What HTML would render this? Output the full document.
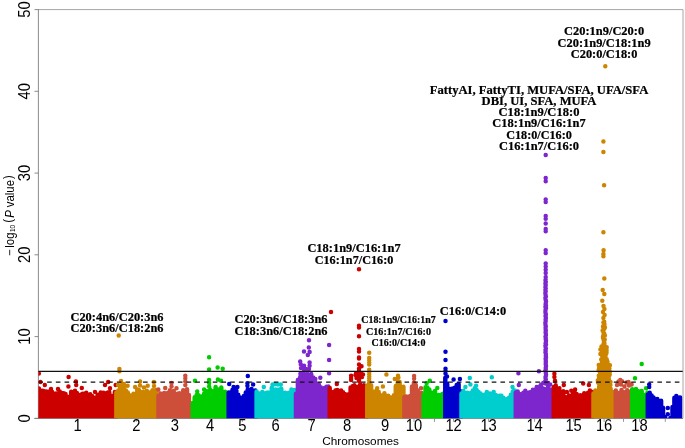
<!DOCTYPE html>
<html lang="en"><head><meta charset="utf-8"><title>Manhattan plot</title>
<style>html,body{margin:0;padding:0;background:#fff}svg{display:block;will-change:transform}</style></head>
<body>
<svg width="685" height="448" viewBox="0 0 685 448">
<rect width="685" height="448" fill="#fff"/>
<defs><clipPath id="pc"><rect x="38.4" y="9.6" width="644.2" height="408.7"/></clipPath></defs>
<path d="M38.4 9.6H683.0" stroke="#a6a6a6" stroke-width="1" fill="none"/>
<path d="M683.0 9.6V418.3" stroke="#a6a6a6" stroke-width="1" fill="none"/>
<path d="M38.4 9.1V418.8M34.4 418.5H683.0" stroke="#7f7f7f" stroke-width="0.9" fill="none"/>
<path d="M34.5 418.3H38.4M34.5 336.6H38.4M34.5 254.8H38.4M34.5 173.1H38.4M34.5 91.3H38.4M34.5 9.6H38.4" stroke="#7f7f7f" stroke-width="0.9" fill="none"/>
<path d="M77.5 418.3V421.9M136.3 418.3V421.9M174.9 418.3V421.9M210.2 418.3V421.9M242.3 418.3V421.9M275.7 418.3V421.9M311.5 418.3V421.9M347.2 418.3V421.9M385 418.3V421.9M414 418.3V421.9M434.5 418.3V421.9M453.6 418.3V421.9M488.6 418.3V421.9M534.6 418.3V421.9M573.6 418.3V421.9M604.1 418.3V421.9M623.5 418.3V421.9M639.5 418.3V421.9M665.3 418.3V421.9" stroke="#8c8c8c" stroke-width="0.9" fill="none"/>
<g clip-path="url(#pc)" fill="none" stroke-width="4.5" stroke-linecap="round">
<path d="M38.9 388.4V422M40.8 390.7V422M42.7 390.7V422M44.6 391.4V422M46.5 391.4V422M48.4 392.1V422M50.3 391.3V422M52.2 391.9V422M54.1 396.3V422M56.0 393.5V422M57.9 393.3V422M59.8 391.5V422M61.7 393.1V422M63.6 393.2V422M65.5 394.0V422M67.4 396.7V422M69.3 397.2V422M71.2 391.7V422M73.1 395.2V422M75.0 390.8V422M76.9 393.0V422M78.8 394.9V422M80.7 394.7V422M82.6 393.8V422M84.5 393.7V422M86.4 394.7V422M88.3 396.8V422M90.2 394.2V422M92.1 396.0V422M94.0 398.9V422M95.9 397.6V422M97.8 394.8V422M99.7 395.0V422M101.6 397.8V422M103.5 392.8V422M105.4 395.6V422M107.3 392.8V422M109.2 392.0V422M111.1 395.7V422M113.0 396.4V422M114.9 392.1V422M38.8 373.6v.01M40.4 382.0v.01M68.6 377.0v.01M75.9 381.4v.01M68.4 386.4v.01M76.2 385.1v.01M108.2 382.0v.01M105.0 385.1v.01M115.7 385.1v.01M110.0 388.3v.01M44.8 385.1v.01M51.0 388.9v.01M58.0 389.1v.01M81.8 387.9v.01M86.2 392.7v.01M95.0 392.0v.01M100.7 392.4v.01" stroke="#cd0000"/>
<path d="M116.4 392.4V422M118.3 390.5V422M120.2 386.5V422M122.1 391.4V422M124.0 387.0V422M125.9 390.6V422M127.8 392.4V422M129.7 395.3V422M131.6 396.9V422M133.5 393.8V422M135.4 395.9V422M137.3 389.4V422M139.2 390.2V422M141.1 392.4V422M143.0 391.9V422M144.9 394.5V422M146.8 390.7V422M148.7 393.5V422M150.6 392.2V422M152.5 390.2V422M154.4 390.7V422M156.3 390.0V422M119.4 369.1v.01M119.4 371.3v.01M118.7 335.6v.01M121.0 381.1v.01M140.1 381.6v.01M153.9 382.0v.01M123.8 383.9v.01M127.6 385.8v.01M135.1 387.0v.01M147.7 385.8v.01M143.9 387.6v.01M118.0 385.0v.01M121.0 385.0v.01M140.0 385.5v.01M154.0 386.0v.01" stroke="#cd8500"/>
<path d="M158.5 395.7V422M160.4 393.5V422M162.3 395.4V422M164.2 393.1V422M166.1 397.5V422M168.0 392.7V422M169.9 390.3V422M171.8 394.3V422M173.7 391.0V422M175.6 394.6V422M177.5 393.7V422M179.4 393.2V422M181.3 395.3V422M183.2 390.2V422M185.1 391.8V422M187.0 389.3V422M188.9 394.9V422M190.8 409.0V422M185.3 375.7v.01M185.3 378.2v.01M171.5 382.9v.01M165.2 387.9v.01M176.5 388.3v.01M185.3 385.1v.01M171.5 386.4v.01M158.3 389.5v.01M185.3 381.5v.01" stroke="#cd4f39"/>
<path d="M192.8 403.1V422M194.7 397.2V422M196.6 395.0V422M198.5 395.3V422M200.4 396.8V422M202.3 396.3V422M204.2 393.4V422M206.1 390.9V422M208.0 391.7V422M209.9 389.2V422M211.8 393.4V422M213.7 391.0V422M215.6 387.1V422M217.5 389.5V422M219.4 389.5V422M221.3 387.4V422M223.2 392.2V422M225.1 391.8V422M227.0 395.5V422M209.1 357.3v.01M209.1 369.4v.01M217.6 367.6v.01M222.7 368.8v.01M195.0 380.7v.01M209.1 379.9v.01M217.9 379.5v.01M221.0 380.7v.01M209.1 386.4v.01M197.2 391.4v.01M204.1 389.5v.01M209.1 383.0v.01" stroke="#00cd00"/>
<path d="M228.7 392.5V422M230.6 392.6V422M232.5 389.8V422M234.4 393.2V422M236.3 390.2V422M238.2 394.7V422M240.1 397.5V422M242.0 397.7V422M243.9 396.0V422M245.8 392.5V422M247.7 389.6V422M249.6 391.3V422M251.5 389.0V422M253.4 391.4V422M255.3 390.5V422M247.8 376.1v.01M229.2 384.1v.01M247.4 383.2v.01M247.4 385.8v.01M253.1 384.5v.01M237.4 387.0v.01M233.6 387.0v.01" stroke="#0000cd"/>
<path d="M256.6 391.6V422M258.5 393.2V422M260.4 395.9V422M262.3 391.9V422M264.2 394.9V422M266.1 393.0V422M268.0 392.4V422M269.9 393.7V422M271.8 387.5V422M273.7 394.4V422M275.6 389.6V422M277.5 389.8V422M279.4 389.8V422M281.3 388.7V422M283.2 393.5V422M285.1 392.8V422M287.0 396.0V422M288.9 392.7V422M290.8 395.5V422M292.7 392.1V422M294.6 389.9V422M263.8 387.0v.01M272.6 384.6v.01M275.0 384.3v.01M278.0 384.6v.01M280.8 384.6v.01M291.4 389.6v.01" stroke="#00cdcd"/>
<path d="M296.0 393.8V422M297.9 379.9V422M299.8 378.0V422M301.7 375.6V422M303.6 375.7V422M305.5 377.6V422M307.4 374.1V422M309.3 375.3V422M311.2 374.0V422M313.1 377.5V422M315.0 380.9V422M316.9 385.9V422M318.8 384.2V422M320.7 387.2V422M322.6 388.9V422M324.5 388.0V422M326.4 386.8V422M328.3 386.6V422M309.0 340.3v.01M329.1 345.0v.01M308.8 347.6v.01M304.0 351.6v.01M309.6 351.9v.01M307.8 355.1v.01M329.1 360.1v.01M300.2 361.4v.01M309.6 362.6v.01M300.8 364.5v.01M304.0 365.8v.01M309.6 365.8v.01M309.0 368.9v.01M304.0 369.5v.01M329.1 373.3v.01M320.3 377.7v.01M315.3 379.0v.01M301.0 368.0v.01M306.0 369.0v.01M301.2 374.3v.01M309.0 375.0v.01M302.8 377.4v.01M310.3 374.5v.01M305.2 378.9v.01M310.4 381.3v.01M310.2 376.4v.01M304.8 377.1v.01M310.4 382.6v.01M301.6 375.4v.01M302.6 375.9v.01M305.6 379.2v.01M303.0 373.8v.01M304.8 377.2v.01M306.6 382.6v.01M308.1 378.5v.01M307.2 380.0v.01M300.4 382.1v.01M309.2 381.8v.01M309.4 377.4v.01M304.6 374.8v.01M307.4 374.4v.01M300.6 375.7v.01M301.7 376.9v.01M300.4 373.8v.01M301.6 374.7v.01M304.2 374.0v.01M310.3 379.4v.01M301.6 376.1v.01M304.0 377.2v.01M301.3 381.6v.01M311.7 378.1v.01M305.6 374.6v.01M301.0 377.0v.01M303.0 381.4v.01M301.7 374.0v.01M311.2 378.7v.01M301.6 378.8v.01M300.1 378.7v.01M311.5 381.7v.01" stroke="#7d26cd"/>
<path d="M329.7 388.1V422M331.6 392.0V422M333.5 393.0V422M335.4 390.5V422M337.3 389.9V422M339.2 394.5V422M341.1 390.6V422M343.0 392.3V422M344.9 394.0V422M346.8 395.9V422M348.7 394.3V422M350.6 387.4V422M352.5 386.2V422M354.4 385.2V422M356.3 387.7V422M358.2 386.7V422M360.1 384.4V422M362.0 386.9V422M363.9 385.2V422M365.8 386.7V422M336.8 384.1v.01M351.1 375.7v.01M351.1 378.0v.01M351.1 380.1v.01M359.0 357.5v.01M359.0 364.4v.01M361.5 366.3v.01M359.0 368.8v.01M359.0 371.0v.01M359.0 373.0v.01M359.0 375.0v.01M359.0 377.0v.01M359.0 379.0v.01M359.0 381.0v.01M356.0 373.5v.01M357.5 374.5v.01M361.0 373.5v.01M363.0 374.5v.01M355.5 375.0v.01M359.0 269.2v.01M331.0 311.9v.01M359.0 325.7v.01M359.0 327.6v.01M359.0 336.2v.01M359.0 349.0v.01M359.0 351.5v.01M359.0 358.5v.01M362.0 377.0v.01M356.5 378.0v.01" stroke="#cd0000"/>
<path d="M367.3 385.5V422M369.2 385.4V422M371.1 385.2V422M373.0 391.4V422M374.9 393.4V422M376.8 389.8V422M378.7 392.1V422M380.6 395.2V422M382.5 396.9V422M384.4 393.3V422M386.3 396.7V422M388.2 395.7V422M390.1 397.3V422M392.0 397.7V422M393.9 395.2V422M395.8 385.9V422M397.7 383.6V422M399.6 382.1V422M401.5 387.8V422M403.4 386.7V422M369.2 352.8v.01M369.2 358.0v.01M369.2 360.2v.01M369.2 362.4v.01M369.2 364.6v.01M369.2 369.8v.01M369.2 372.0v.01M369.2 374.2v.01M369.2 376.4v.01M369.2 378.6v.01M369.2 380.8v.01M369.2 383.0v.01M386.4 374.5v.01M398.0 375.7v.01M394.8 378.9v.01M398.0 380.0v.01M382.9 386.4v.01M377.2 388.3v.01M398.4 377.5v.01" stroke="#cd8500"/>
<path d="M404.4 397.1V422M406.3 396.5V422M408.2 399.0V422M410.1 396.1V422M412.0 386.6V422M413.9 382.6V422M415.8 385.1V422M417.7 390.4V422M419.6 393.8V422M421.5 392.9V422M414.1 376.1v.01M414.1 378.5v.01M421.0 388.3v.01" stroke="#cd4f39"/>
<path d="M423.6 394.8V422M425.5 387.2V422M427.4 387.4V422M429.3 389.6V422M431.2 392.5V422M433.1 394.8V422M435.0 391.0V422M436.9 396.3V422M438.8 395.0V422M440.7 395.1V422M442.6 394.1V422M444.5 392.4V422M429.8 380.7v.01M426.6 383.2v.01M437.3 387.9v.01" stroke="#00cd00"/>
<path d="M445.3 377.7V422M447.2 383.7V422M449.1 388.7V422M451.0 388.9V422M452.9 388.4V422M454.8 387.7V422M456.7 384.9V422M458.6 384.0V422M460.5 391.2V422M445.5 321.1v.01M445.5 351.7v.01M445.5 360.0v.01M445.5 368.8v.01M445.5 371.0v.01M445.5 373.5v.01M453.6 379.5v.01M459.9 378.9v.01M447.0 376.5v.01" stroke="#0000cd"/>
<path d="M461.5 393.4V422M463.4 391.0V422M465.3 394.5V422M467.2 392.7V422M469.1 394.6V422M471.0 392.7V422M472.9 390.5V422M474.8 388.0V422M476.7 390.1V422M478.6 391.9V422M480.5 393.5V422M482.4 396.2V422M484.3 394.7V422M486.2 397.4V422M488.1 395.7V422M490.0 393.5V422M491.9 394.6V422M493.8 397.6V422M495.7 394.9V422M497.6 397.3V422M499.5 395.7V422M501.4 395.7V422M503.3 397.7V422M505.2 400.2V422M507.1 398.9V422M509.0 397.7V422M510.9 394.8V422M512.8 391.4V422M514.7 390.5V422M469.8 377.9v.01M491.8 377.3v.01M470.4 384.5v.01M476.1 385.8v.01M465.4 387.0v.01M486.8 392.0v.01M493.7 392.0v.01M512.5 387.0v.01" stroke="#00cdcd"/>
<path d="M515.8 392.5V422M517.7 391.6V422M519.6 393.9V422M521.5 395.0V422M523.4 392.8V422M525.3 390.8V422M527.2 394.2V422M529.1 392.6V422M531.0 392.0V422M532.9 389.8V422M534.8 390.0V422M536.7 387.1V422M538.6 390.3V422M540.5 385.6V422M542.4 388.3V422M544.3 388.9V422M546.2 389.6V422M548.1 386.4V422M550.0 389.5V422M551.9 389.8V422M518.4 373.2v.01M538.9 371.3v.01M518.8 385.1v.01M545.7 155.0v.01M545.7 178.1v.01M545.7 181.3v.01M545.7 199.4v.01M545.7 201.9v.01M545.7 215.9v.01M545.7 218.8v.01M545.7 223.4v.01M545.7 229.0v.01M545.7 231.3v.01M545.7 250.3v.01M545.7 253.1v.01M545.7 263.4v.01M545.7 266.6v.01M545.7 269.7v.01M545.7 273.0v.01M545.7 276.9v.01M545.6 279.5v.01M545.5 280.8v.01M545.8 282.1v.01M545.4 283.4v.01M545.7 284.7v.01M545.6 286.0v.01M545.4 287.3v.01M545.7 288.6v.01M545.4 289.9v.01M545.7 291.2v.01M545.4 292.5v.01M545.4 293.8v.01M545.6 295.1v.01M545.9 296.4v.01M545.4 297.7v.01M545.5 299.0v.01M545.8 300.3v.01M546.0 301.6v.01M545.8 302.9v.01M545.6 304.2v.01M546.0 305.5v.01M545.4 306.8v.01M546.0 308.1v.01M545.6 309.4v.01M545.5 310.7v.01M545.4 312.0v.01M545.6 313.3v.01M545.9 314.6v.01M545.5 315.9v.01M545.8 317.2v.01M545.8 318.5v.01M545.6 319.8v.01M545.7 321.1v.01M545.4 322.4v.01M545.4 323.7v.01M545.5 325.0v.01M545.8 326.3v.01M545.6 327.6v.01M545.6 328.9v.01M545.8 330.2v.01M545.7 331.5v.01M545.6 332.8v.01M545.9 334.1v.01M545.8 335.4v.01M545.5 336.7v.01M545.8 338.0v.01M545.7 339.3v.01M546.0 340.6v.01M545.9 341.9v.01M545.6 343.2v.01M546.0 344.5v.01M545.4 345.8v.01M545.6 347.1v.01M545.9 348.4v.01M545.5 349.7v.01M545.7 351.0v.01M545.4 352.3v.01M545.8 353.6v.01M545.9 354.9v.01M545.8 356.2v.01M546.0 357.5v.01M545.6 358.8v.01M545.8 360.1v.01M545.8 361.4v.01M545.8 362.7v.01M545.7 364.0v.01M545.9 365.3v.01M546.0 366.6v.01M545.7 367.9v.01M545.8 369.2v.01M545.4 370.5v.01M545.8 371.8v.01M545.8 373.1v.01M546.0 374.4v.01M545.9 375.7v.01M545.5 377.0v.01M545.6 378.3v.01M545.8 379.6v.01M545.4 380.9v.01M545.7 382.2v.01M545.5 383.5v.01M543.2 383.0v.01M548.2 383.0v.01M541.2 384.5v.01M550.2 384.5v.01" stroke="#7d26cd"/>
<path d="M553.8 386.9V422M555.7 385.3V422M557.6 390.8V422M559.5 390.8V422M561.4 392.8V422M563.3 391.3V422M565.2 396.9V422M567.1 397.7V422M569.0 395.5V422M570.9 398.5V422M572.8 394.3V422M574.7 393.1V422M576.6 394.1V422M578.5 396.2V422M580.4 395.3V422M582.3 396.2V422M584.2 393.3V422M586.1 395.2V422M588.0 392.8V422M589.9 390.5V422M591.8 394.2V422M554.4 373.8v.01M554.4 377.0v.01M555.0 380.7v.01M563.8 385.1v.01M583.2 383.6v.01M588.9 385.1v.01M559.4 388.3v.01M575.1 389.5v.01M571.3 390.8v.01M566.9 392.0v.01M592.7 392.0v.01" stroke="#cd0000"/>
<path d="M593.5 393.6V422M595.4 390.4V422M597.3 390.8V422M599.2 386.4V422M601.1 389.4V422M603.0 388.4V422M604.9 385.1V422M606.8 386.1V422M608.7 387.2V422M610.6 388.7V422M612.5 392.0V422M614.4 395.9V422M603.4 256.3v.01M603.4 254.0v.01M603.6 250.3v.01M603.4 232.2v.01M604.1 185.3v.01M603.4 151.9v.01M603.4 141.6v.01M605.3 66.2v.01M604.3 278.6v.01M602.7 290.1v.01M604.3 294.0v.01M602.3 300.8v.01M603.5 306.0v.01M604.4 309.0v.01M603.0 312.0v.01M604.6 315.0v.01M603.4 318.0v.01M604.2 321.7v.01M603.4 322.6v.01M604.4 324.0v.01M604.4 324.8v.01M603.0 326.4v.01M604.9 327.4v.01M604.4 328.4v.01M604.3 328.7v.01M603.7 329.8v.01M602.6 330.4v.01M603.2 331.7v.01M604.2 333.5v.01M603.6 334.5v.01M604.9 335.5v.01M603.4 335.7v.01M603.0 336.6v.01M603.0 338.1v.01M604.7 339.4v.01M603.7 340.2v.01M604.4 340.5v.01M604.1 342.5v.01M604.4 343.3v.01M603.6 343.6v.01M604.4 344.8v.01M604.4 346.6v.01M603.0 346.9v.01M606.7 347.3v.01M601.5 346.6v.01M601.3 348.5v.01M605.8 347.6v.01M605.9 348.6v.01M604.8 348.8v.01M604.0 348.6v.01M600.4 349.6v.01M604.7 350.0v.01M606.6 349.9v.01M606.2 350.4v.01M601.7 350.7v.01M602.3 350.7v.01M604.3 350.7v.01M603.1 351.6v.01M606.5 351.8v.01M603.4 352.1v.01M606.4 352.9v.01M606.5 353.0v.01M603.9 353.0v.01M600.4 353.9v.01M601.5 353.4v.01M605.7 353.6v.01M603.5 355.3v.01M604.1 354.8v.01M603.8 355.1v.01M605.6 355.5v.01M604.1 355.7v.01M602.2 356.3v.01M603.8 357.1v.01M605.5 357.5v.01M603.3 357.1v.01M603.7 358.0v.01M605.0 357.9v.01M603.9 358.0v.01M606.7 359.2v.01M606.3 359.5v.01M602.1 359.1v.01M606.7 360.4v.01M601.2 359.5v.01M603.3 359.5v.01M602.5 360.5v.01M605.5 361.3v.01M607.0 360.6v.01M605.8 362.2v.01M601.9 362.5v.01M607.5 361.7v.01M607.4 362.9v.01M604.2 363.6v.01M606.6 362.6v.01M603.8 364.0v.01M603.2 363.6v.01M603.1 364.3v.01M598.7 365.1v.01M603.6 364.4v.01M602.3 365.1v.01M604.4 364.5v.01M609.9 365.3v.01M609.8 365.5v.01M601.6 365.4v.01M607.5 365.7v.01M600.0 365.9v.01M609.1 366.4v.01M601.5 366.6v.01M609.2 367.1v.01M606.6 366.5v.01M599.2 367.2v.01M603.4 366.5v.01M609.4 368.2v.01M607.8 367.5v.01M608.4 367.5v.01M608.5 367.9v.01M602.4 368.1v.01M609.2 368.7v.01M600.0 369.0v.01M601.3 368.5v.01M600.4 368.5v.01M600.8 368.8v.01M602.0 370.3v.01M601.9 370.0v.01M600.6 369.8v.01M598.7 369.7v.01M598.7 370.3v.01M604.9 370.6v.01M604.0 371.5v.01M599.7 371.4v.01M603.5 371.0v.01M608.2 370.9v.01M604.4 372.2v.01M609.9 371.8v.01M608.2 372.2v.01M605.9 371.9v.01M602.5 371.5v.01M600.0 372.5v.01M607.1 372.7v.01M600.4 372.5v.01M608.3 373.4v.01M606.3 372.7v.01M601.3 373.8v.01M603.8 373.6v.01M603.7 373.7v.01M609.7 374.6v.01M604.8 373.7v.01M609.7 374.8v.01M602.6 374.4v.01M602.9 375.0v.01M604.3 374.6v.01M604.4 374.4v.01M601.6 375.5v.01M603.1 375.5v.01M598.8 375.8v.01M601.2 376.1v.01M604.6 376.3v.01M606.1 377.3v.01M608.7 376.9v.01M602.3 377.6v.01M600.2 377.3v.01M606.0 376.5v.01M608.2 378.5v.01M605.8 378.3v.01M607.9 377.6v.01M604.6 378.0v.01M608.2 378.4v.01M608.1 379.1v.01M608.9 379.2v.01M606.5 378.7v.01M598.9 378.6v.01M602.7 378.5v.01M608.7 380.1v.01M606.0 380.2v.01M606.6 380.0v.01M597.8 380.4v.01M607.5 380.0v.01M604.8 381.2v.01M598.7 381.3v.01M601.1 380.5v.01M601.3 381.3v.01M600.5 381.3v.01M610.5 382.0v.01M602.8 382.0v.01M606.7 382.3v.01M605.8 382.2v.01M598.8 381.6v.01M601.1 383.3v.01M601.8 383.1v.01M598.0 382.5v.01M601.3 383.2v.01M606.8 383.2v.01M601.6 384.0v.01M603.8 384.0v.01M599.3 384.5v.01M600.4 384.6v.01M610.0 383.4v.01M603.8 385.4v.01M610.4 384.9v.01M601.3 384.7v.01M610.1 384.7v.01M605.4 384.6v.01" stroke="#cd8500"/>
<path d="M615.8 390.5V422M617.7 395.3V422M619.6 392.7V422M621.5 390.1V422M623.4 392.1V422M625.3 392.4V422M627.2 390.2V422M629.1 391.6V422M631.0 392.9V422M620.3 380.1v.01M622.0 381.2v.01M618.5 381.5v.01M628.5 382.0v.01M626.5 382.5v.01M631.6 384.5v.01M617.0 385.0v.01M624.5 386.5v.01M629.0 385.5v.01M621.0 384.5v.01" stroke="#cd4f39"/>
<path d="M632.2 389.2V422M634.1 390.9V422M636.0 389.0V422M637.9 391.0V422M639.8 394.1V422M641.7 391.1V422M643.6 395.0V422M645.5 394.7V422M647.4 392.8V422M641.7 364.0v.01M635.0 378.2v.01M646.1 388.3v.01" stroke="#00cd00"/>
<path d="M647.8 394.4V422M649.7 392.8V422M651.6 395.5V422M653.5 397.6V422M655.4 400.1V422M657.3 399.0V422M659.2 401.5V422M661.1 400.8V422M663.0 407.8V422M664.9 417.1V422M666.8 421.3V422M668.7 419.6V422M670.6 417.9V422M672.5 407.1V422M674.4 397.7V422M676.3 396.0V422M678.2 397.5V422M680.1 397.5V422M649.2 384.5v.01M649.2 387.0v.01M667.8 408.0v.01M667.8 414.2v.01" stroke="#0000cd"/>
</g>
<path d="M38.4 371.4H682.7" stroke="#111" stroke-width="1.15" fill="none"/>
<path d="M38.4 382.1H682.7" stroke="#111" stroke-width="1.15" stroke-dasharray="4.6 4.118" fill="none"/>
<g font-family="Liberation Sans, Arial, Helvetica, sans-serif" font-size="15.7" fill="#000" text-anchor="middle">
<text transform="translate(77.5 431.3) scale(.94 1)">1</text>
<text transform="translate(136.3 431.3) scale(.94 1)">2</text>
<text transform="translate(174.9 431.3) scale(.94 1)">3</text>
<text transform="translate(210.2 431.3) scale(.94 1)">4</text>
<text transform="translate(242.3 431.3) scale(.94 1)">5</text>
<text transform="translate(275.7 431.3) scale(.94 1)">6</text>
<text transform="translate(311.5 431.3) scale(.94 1)">7</text>
<text transform="translate(347.2 431.3) scale(.94 1)">8</text>
<text transform="translate(385.0 431.3) scale(.94 1)">9</text>
<text transform="translate(414.0 431.3) scale(.94 1)">10</text>
<text transform="translate(453.6 431.3) scale(.94 1)">12</text>
<text transform="translate(488.6 431.3) scale(.94 1)">13</text>
<text transform="translate(534.6 431.3) scale(.94 1)">14</text>
<text transform="translate(573.6 431.3) scale(.94 1)">15</text>
<text transform="translate(604.1 431.3) scale(.94 1)">16</text>
<text transform="translate(639.5 431.3) scale(.94 1)">18</text>
<text transform="translate(30 418.3) rotate(-90) scale(.94 1)">0</text>
<text transform="translate(30 336.6) rotate(-90) scale(.94 1)">10</text>
<text transform="translate(30 254.8) rotate(-90) scale(.94 1)">20</text>
<text transform="translate(30 173.1) rotate(-90) scale(.94 1)">30</text>
<text transform="translate(30 91.3) rotate(-90) scale(.94 1)">40</text>
<text transform="translate(30 9.6) rotate(-90) scale(.94 1)">50</text>
</g>
<text font-family="Liberation Sans, Arial, Helvetica, sans-serif" font-size="11.8" fill="#000" text-anchor="middle" x="360.6" y="445.4">Chromosomes</text>
<text font-family="Liberation Sans, Arial, Helvetica, sans-serif" font-size="12.2" fill="#000" transform="translate(13.7 0) rotate(-90) scale(0.935 1)"><tspan x="-273.82" y="0">−</tspan><tspan x="-264.92">log</tspan><tspan x="-248.15" dy="1.4" font-size="6.8">10</tspan><tspan x="-238.20" dy="-3">(</tspan><tspan x="-233.01" dy="1.6" font-style="italic">P</tspan> <tspan x="-221.60">value</tspan><tspan x="-191.38" dy="-1.6">)</tspan></text>
<g font-family="Liberation Serif, Times New Roman, Times, serif" font-weight="bold" font-size="12.4" fill="#000" stroke="#000" stroke-width="0.22" text-anchor="middle"><text x="604.1" y="35.3" textLength="80.1" lengthAdjust="spacingAndGlyphs">C20:1n9/C20:0</text><text x="604.1" y="46.6" textLength="93" lengthAdjust="spacingAndGlyphs">C20:1n9/C18:1n9</text><text x="604.1" y="57.9" textLength="66.6" lengthAdjust="spacingAndGlyphs">C20:0/C18:0</text></g>
<g font-family="Liberation Serif, Times New Roman, Times, serif" font-weight="bold" font-size="12.4" fill="#000" stroke="#000" stroke-width="0.22" text-anchor="middle"><text x="539" y="93.5" textLength="218.5" lengthAdjust="spacingAndGlyphs">FattyAI, FattyTI, MUFA/SFA, UFA/SFA</text><text x="539" y="104.8" textLength="114.9" lengthAdjust="spacingAndGlyphs">DBI, UI, SFA, MUFA</text><text x="539" y="116.0" textLength="80.9" lengthAdjust="spacingAndGlyphs">C18:1n9/C18:0</text><text x="539" y="127.3" textLength="93.3" lengthAdjust="spacingAndGlyphs">C18:1n9/C16:1n7</text><text x="539" y="138.6" textLength="65.7" lengthAdjust="spacingAndGlyphs">C18:0/C16:0</text><text x="539" y="149.8" textLength="80.1" lengthAdjust="spacingAndGlyphs">C16:1n7/C16:0</text></g>
<g font-family="Liberation Serif, Times New Roman, Times, serif" font-weight="bold" font-size="12.4" fill="#000" stroke="#000" stroke-width="0.22" text-anchor="middle"><text x="354" y="252.3" textLength="93.2" lengthAdjust="spacingAndGlyphs">C18:1n9/C16:1n7</text><text x="354" y="263.7" textLength="78.7" lengthAdjust="spacingAndGlyphs">C16:1n7/C16:0</text></g>
<g font-family="Liberation Serif, Times New Roman, Times, serif" font-weight="bold" font-size="12.4" fill="#000" stroke="#000" stroke-width="0.22" text-anchor="middle"><text x="117" y="320.7" textLength="93.1" lengthAdjust="spacingAndGlyphs">C20:4n6/C20:3n6</text><text x="117" y="332.0" textLength="93.1" lengthAdjust="spacingAndGlyphs">C20:3n6/C18:2n6</text></g>
<g font-family="Liberation Serif, Times New Roman, Times, serif" font-weight="bold" font-size="12.4" fill="#000" stroke="#000" stroke-width="0.22" text-anchor="middle"><text x="281" y="323.3" textLength="93.1" lengthAdjust="spacingAndGlyphs">C20:3n6/C18:3n6</text><text x="281" y="334.5" textLength="93.1" lengthAdjust="spacingAndGlyphs">C18:3n6/C18:2n6</text></g>
<g font-family="Liberation Serif, Times New Roman, Times, serif" font-weight="bold" font-size="9.9" fill="#000" stroke="#000" stroke-width="0.22" text-anchor="middle"><text x="398.5" y="323.4" textLength="74.5" lengthAdjust="spacingAndGlyphs">C18:1n9/C16:1n7</text><text x="398.5" y="334.5" textLength="64.9" lengthAdjust="spacingAndGlyphs">C16:1n7/C16:0</text><text x="398.5" y="345.6" textLength="53.9" lengthAdjust="spacingAndGlyphs">C16:0/C14:0</text></g>
<g font-family="Liberation Serif, Times New Roman, Times, serif" font-weight="bold" font-size="12.4" fill="#000" stroke="#000" stroke-width="0.22" text-anchor="middle"><text x="473.05" y="315.3" textLength="66.5" lengthAdjust="spacingAndGlyphs">C16:0/C14:0</text></g>
</svg>
</body></html>
